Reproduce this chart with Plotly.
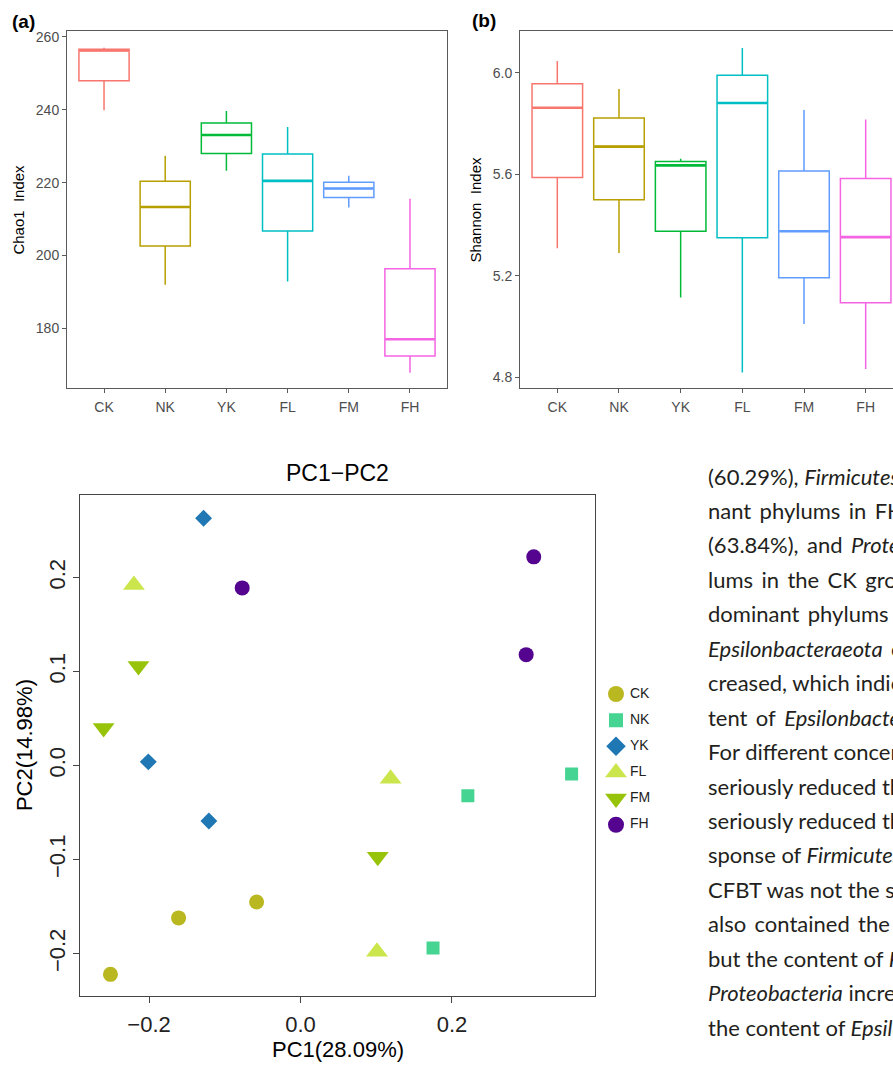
import plotly.graph_objects as go

W, H = 893, 1067

# ---------------- data ----------------
groups = ["CK", "NK", "YK", "FL", "FM", "FH"]
box_colors = ["#F8766D", "#B79F00", "#00BA38", "#00BFC4", "#619CFF", "#F564E3"]

chao1_low = [239.9, 192.0, 223.3, 192.9, 213.2, 167.8]
chao1_q1 = [248.0, 202.6, 228.0, 206.7, 215.9, 172.4]
chao1_med = [256.3, 213.3, 233.1, 220.5, 218.4, 177.0]
chao1_q3 = [256.6, 220.4, 236.4, 227.9, 220.1, 196.4]
chao1_high = [257.0, 227.4, 239.7, 235.3, 221.9, 215.6]

shannon_low = [5.308, 5.289, 5.114, 4.818, 5.009, 4.832]
shannon_q1 = [5.587, 5.499, 5.375, 5.350, 5.192, 5.093]
shannon_med = [5.862, 5.709, 5.635, 5.881, 5.375, 5.352]
shannon_q3 = [5.957, 5.822, 5.650, 5.990, 5.613, 5.583]
shannon_high = [6.047, 5.936, 5.661, 6.098, 5.853, 5.816]

pc1_ck = [-0.161, -0.058, -0.251]
pc2_ck = [-0.162, -0.145, -0.222]
pc1_nk = [0.221, 0.358, 0.175]
pc2_nk = [-0.032, -0.009, -0.194]
pc1_yk = [-0.128, -0.201, -0.121]
pc2_yk = [0.263, 0.004, -0.059]
pc1_fl = [-0.220, 0.119, 0.101]
pc2_fl = [0.192, -0.014, -0.198]
pc1_fm = [-0.214, -0.260, 0.102]
pc2_fm = [0.106, 0.040, -0.097]
pc1_fh = [-0.077, 0.308, 0.298]
pc2_fh = [0.189, 0.222, 0.118]

pca_x = [pc1_ck, pc1_nk, pc1_yk, pc1_fl, pc1_fm, pc1_fh]
pca_y = [pc2_ck, pc2_nk, pc2_yk, pc2_fl, pc2_fm, pc2_fh]
pca_colors = ["#BAB820", "#45D491", "#1F77B4", "#CBE64C", "#98C30B", "#54048F"]
pca_symbols = ["circle", "square", "diamond", "triangle-up", "triangle-down", "circle"]
pca_sizes = [15, 13, 13, 19, 19, 15]
legend_sizes = [16, 14, 15, 19, 19, 16]

J = "\u2009 "  # widened (justified) word gap
paragraph = [
    "(60.29%), <i>Firmicutes</i>",
    "nant" + J + "phylums" + J + "in" + J + "FH",
    "(63.84%)," + J + "and" + J + "<i>Prote</i>",
    "lums" + J + "in" + J + "the" + J + "CK" + J + "grou",
    "dominant" + J + "phylums",
    "<i>Epsilonbacteraeota</i>" + J + "c",
    "creased, which indic",
    "tent" + J + "of" + J + "<i>Epsilonbacter</i>",
    "For different concen",
    "seriously reduced the",
    "seriously reduced the",
    "sponse of <i>Firmicutes</i>",
    "CFBT was not the sam",
    "also" + J + "contained" + J + "the",
    "but the content of <i>F</i>",
    "<i>Proteobacteria</i> increa",
    "the content of <i>Epsilo</i>",
]

# ---------------- helpers ----------------
def xd(a, b):
    return [a / W, b / W]

def yd(top, bottom):
    return [1 - bottom / H, 1 - top / H]

def px_x(v):
    return v / W

def px_y(v):
    return 1 - v / H

SANS = "Liberation Sans, Arial, sans-serif"
fig = go.Figure()

def add_boxes(low, q1, med, q3, high, xa, ya):
    for i, g in enumerate(groups):
        fig.add_trace(go.Box(
            x=[g], q1=[q1[i]], median=[med[i]], q3=[q3[i]],
            lowerfence=[low[i]], upperfence=[high[i]],
            fillcolor="white", line=dict(color=box_colors[i], width=1.5),
            width=0.82, whiskerwidth=0, showlegend=False, hoverinfo="skip",
            xaxis=xa, yaxis=ya))
    # thicker median bar (ggplot style)
    for i, g in enumerate(groups):
        fig.add_trace(go.Box(
            x=[g], q1=[med[i]], median=[med[i]], q3=[med[i]],
            lowerfence=[med[i]], upperfence=[med[i]],
            fillcolor="rgba(0,0,0,0)", line=dict(color=box_colors[i], width=2.6),
            width=0.80, whiskerwidth=0, showlegend=False, hoverinfo="skip",
            xaxis=xa, yaxis=ya))

add_boxes(chao1_low, chao1_q1, chao1_med, chao1_q3, chao1_high, "x", "y")
add_boxes(shannon_low, shannon_q1, shannon_med, shannon_q3, shannon_high, "x2", "y2")

# ---------------- PCA ----------------
for i, g in enumerate(groups):
    fig.add_trace(go.Scatter(
        x=pca_x[i], y=pca_y[i], mode="markers", name=g,
        marker=dict(symbol=pca_symbols[i], size=pca_sizes[i], color=pca_colors[i],
                    line=dict(width=0)),
        showlegend=False, hoverinfo="skip", xaxis="x3", yaxis="y3"))

# manual legend
for i, g in enumerate(groups):
    fig.add_trace(go.Scatter(
        x=[0], y=[g], mode="markers",
        marker=dict(symbol=pca_symbols[i], size=legend_sizes[i], color=pca_colors[i],
                    line=dict(width=0)),
        showlegend=False, hoverinfo="skip", xaxis="x4", yaxis="y4"))
fig.add_trace(go.Scatter(
    x=[14] * len(groups), y=groups, mode="text", text=groups,
    textposition="middle right", textfont=dict(family=SANS, size=14, color="#222222"),
    showlegend=False, hoverinfo="skip", xaxis="x4", yaxis="y4"))

top_tick_font = dict(family=SANS, size=14, color="#4D4D4D")
frame_col = "#5A5A5A"

fig.update_layout(
    width=W, height=H, margin=dict(l=0, r=0, t=0, b=0),
    paper_bgcolor="white", plot_bgcolor="white",
    xaxis=dict(domain=xd(67, 447), type="category", categoryorder="array",
               categoryarray=groups, range=[-0.605, 5.605],
               showline=True, mirror=True, linecolor=frame_col, linewidth=1,
               ticks="outside", ticklen=4, tickcolor=frame_col, showgrid=False,
               zeroline=False, tickfont=top_tick_font, ticklabelstandoff=2),
    yaxis=dict(domain=yd(29.3, 386.7), range=[163.64, 261.56],
               tickvals=[180, 200, 220, 240, 260],
               showline=True, mirror=True, linecolor=frame_col, linewidth=1,
               ticks="outside", ticklen=4, tickcolor=frame_col, showgrid=False,
               zeroline=False, tickfont=top_tick_font),
    xaxis2=dict(domain=xd(520, 893), type="category", categoryorder="array",
                categoryarray=groups, range=[-0.605, 5.443],
                showline=True, mirror=True, linecolor=frame_col, linewidth=1,
                ticks="outside", ticklen=4, tickcolor=frame_col, showgrid=False,
                zeroline=False, tickfont=top_tick_font, anchor="y2", ticklabelstandoff=2),
    yaxis2=dict(domain=yd(29.3, 386.7), range=[4.757, 6.164],
                tickvals=[4.8, 5.2, 5.6, 6.0], tickformat=".1f",
                showline=True, mirror=False, linecolor=frame_col, linewidth=1,
                ticks="outside", ticklen=4, tickcolor=frame_col, showgrid=False,
                zeroline=False, tickfont=top_tick_font, anchor="x2"),
    xaxis3=dict(domain=xd(80.3, 594.7), range=[-0.2908, 0.3885],
                tickvals=[-0.2, 0.0, 0.2], tickformat=".1f",
                showline=True, mirror=True, linecolor="#444444", linewidth=1,
                ticks="outside", ticklen=6, tickcolor="#444444", showgrid=False,
                zeroline=False, tickfont=dict(family=SANS, size=22, color="#222222"),
                anchor="y3", ticklabelstandoff=2),
    yaxis3=dict(domain=yd(494.2, 996.3), range=[-0.2455, 0.2875],
                tickvals=[-0.2, -0.1, 0.0, 0.1, 0.2], tickformat=".1f", tickangle=-90,
                showline=True, mirror=True, linecolor="#444444", linewidth=1,
                ticks="outside", ticklen=6, tickcolor="#444444", showgrid=False,
                zeroline=False, tickfont=dict(family=SANS, size=22, color="#222222"),
                anchor="x3"),
    xaxis4=dict(domain=xd(600, 700), range=[-16, 84], visible=False, anchor="y4"),
    yaxis4=dict(domain=yd(680.2, 837.4), type="category", categoryorder="array",
                categoryarray=groups, range=[5.5, -0.5], visible=False, anchor="x4"),
)

anns = []

def add_text(text, x, y, size, family=SANS, color="#000000", xanchor="center",
             yanchor="middle", angle=0):
    anns.append(dict(text=text, x=px_x(x), y=px_y(y), xref="paper", yref="paper",
                     showarrow=False, xanchor=xanchor, yanchor=yanchor,
                     textangle=angle, font=dict(family=family, size=size, color=color)))

add_text("<b>(a)</b>", 10, 20, 19, xanchor="left")
add_text("<b>(b)</b>", 470, 19, 19, xanchor="left")
add_text("Chao1\u00a0 Index", 19, 208, 15, angle=-90)
add_text("Shannon\u00a0 Index", 476, 208, 15, angle=-90)
add_text("PC1\u2212PC2", 337.5, 471.6, 23)
add_text("PC1(28.09%)", 337.5, 1049, 22)
add_text("PC2(14.98%)", 24.5, 745, 22, angle=-90)

LINE0, LINE_DY = 475, 34.5
for li, line in enumerate(paragraph):
    add_text(line, 705.5, LINE0 + LINE_DY * li, 22, family="Lato, sans-serif",
             color="#231F20", xanchor="left")

fig.update_layout(annotations=anns)
fig.write_html("out.html")
